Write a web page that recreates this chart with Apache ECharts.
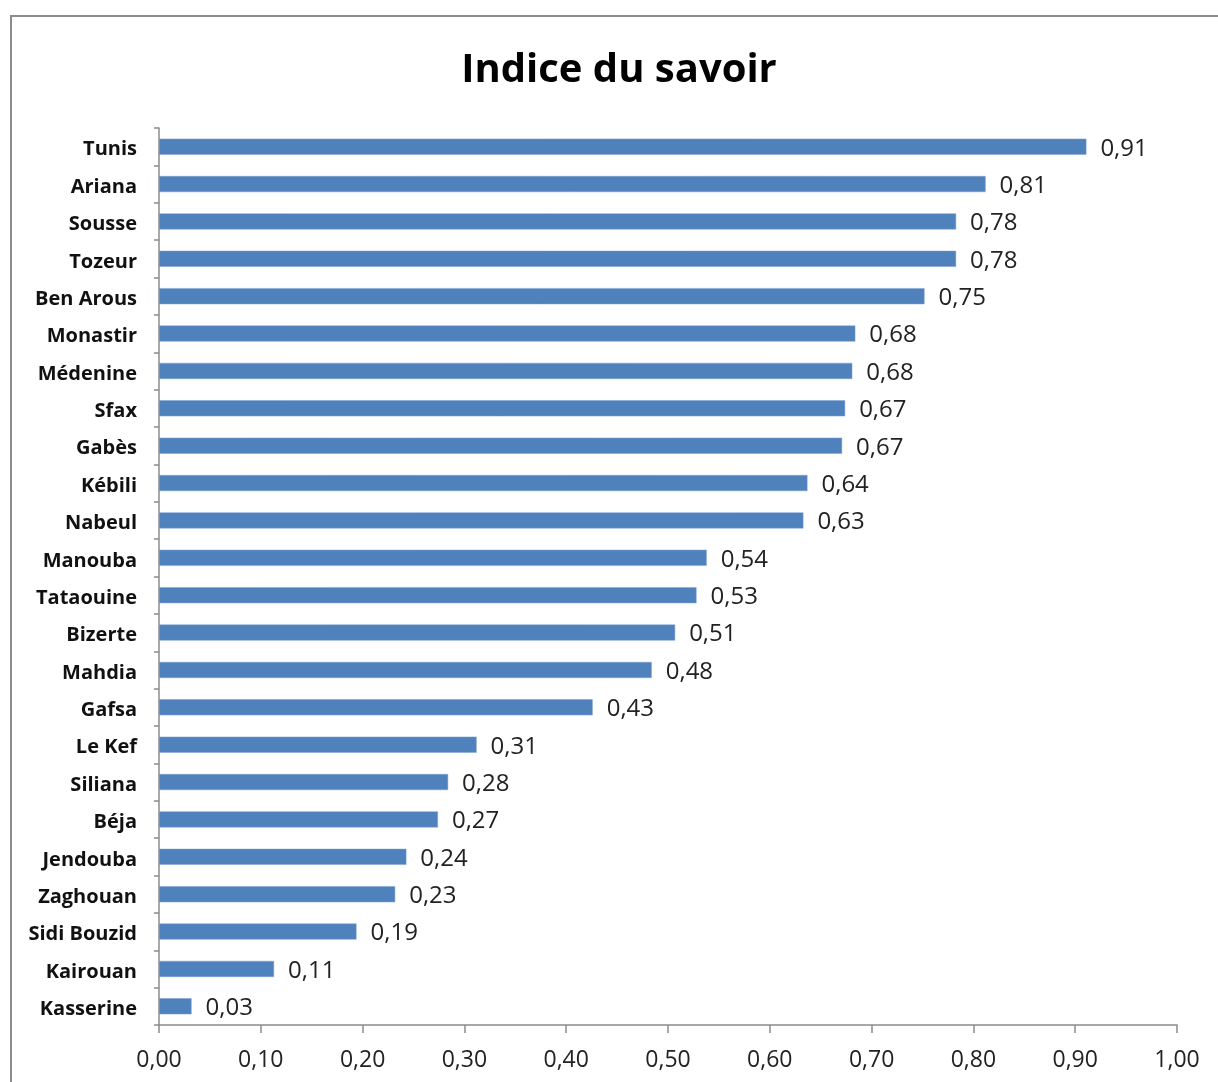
<!DOCTYPE html>
<html><head><meta charset="utf-8">
<script src="https://cdn.jsdelivr.net/npm/echarts@6/dist/echarts.min.js"></script>
<style>
html,body{margin:0;padding:0;background:#fff;}
#frame{position:absolute;left:10px;top:15px;width:1230px;height:1100px;border:2px solid #8c8c8c;box-sizing:border-box;}
#c{position:absolute;left:0;top:0;width:1218px;height:1082px;}
</style></head>
<body>
<div id="frame"></div>
<div id="c"></div>
<script>
const categories = ["Tunis","Ariana","Sousse","Tozeur","Ben Arous","Monastir","Médenine","Sfax","Gabès","Kébili","Nabeul","Manouba","Tataouine","Bizerte","Mahdia","Gafsa","Le Kef","Siliana","Béja","Jendouba","Zaghouan","Sidi Bouzid","Kairouan","Kasserine"];
const values = [0.911,0.812,0.783,0.783,0.752,0.684,0.681,0.674,0.671,0.637,0.633,0.538,0.528,0.507,0.484,0.426,0.312,0.284,0.274,0.243,0.232,0.194,0.113,0.032];
const xTicks = [0,0.1,0.2,0.3,0.4,0.5,0.6,0.7,0.8,0.9,1.0];
const fmt = v => v.toFixed(2).replace('.', ',');
const chart = echarts.init(document.getElementById('c'));
chart.setOption({
  animation:false,
  backgroundColor:'transparent',
  title:{text:'Indice du savoir',left:614,top:46,textAlign:'center',
    textStyle:{fontFamily:'Open Sans',fontWeight:'bold',fontSize:40,color:'#000'}},
  grid:{left:159,top:128,right:41,bottom:57,containLabel:false},
  xAxis:{type:'value',min:xTicks[0],max:xTicks[xTicks.length-1],interval:0.1,
    axisLine:{show:true,lineStyle:{color:'#8c8c8c',width:1.5}},
    axisTick:{show:true,length:8,lineStyle:{color:'#8c8c8c',width:1.5}},
    splitLine:{show:false},
    axisLabel:{formatter:fmt,fontFamily:'Open Sans',fontSize:23,color:'#222',margin:24}},
  yAxis:{type:'category',data:categories,inverse:true,
    axisLine:{show:true,lineStyle:{color:'#8c8c8c',width:1.5}},
    axisTick:{show:true,length:5,lineStyle:{color:'#8c8c8c',width:1.5}},
    axisLabel:{margin:22,formatter:v=>'{a|'+v+'}',
      rich:{a:{fontFamily:'Open Sans',fontWeight:'bold',fontSize:20,color:'#111',lineHeight:26,verticalAlign:'bottom'}}}},
  series:[{type:'bar',data:values,barCategoryGap:'57%',
    itemStyle:{color:'#4f81bd',borderColor:'#7ea3d0',borderWidth:0.5},
    label:{show:true,position:'right',distance:14,offset:[0,2],formatter:p=>fmt(p.value),
      fontFamily:'Open Sans',fontSize:24,color:'#222'}}]
});
</script>
</body></html>
